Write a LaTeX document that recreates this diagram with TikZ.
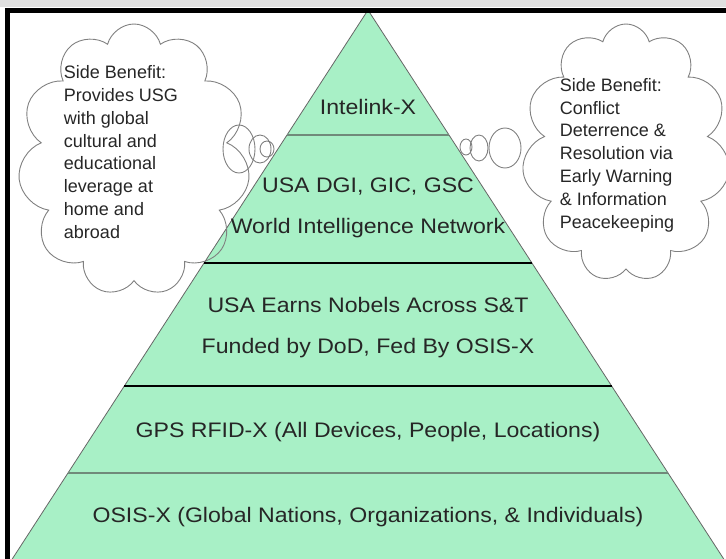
\documentclass[tikz,border=0pt]{standalone}
\usepackage{fontspec}
\setmainfont{Liberation Sans}
\newfontfamily\pyrfont[FakeStretch=1.1]{Liberation Sans}
\usetikzlibrary{shapes.symbols,calc}

\definecolor{pyrgreen}{RGB}{168,240,198}
\definecolor{sepgray}{RGB}{112,138,122}

\tikzset{
  layer/.style={font=\pyrfont\fontsize{21}{25}\selectfont,text=black!85},
  thought/.style={draw=black!50,line width=0.9pt,cloud,cloud puffs=11,cloud ignores aspect},
  thoughttext/.style={align=left,font=\fontsize{18}{22.8}\selectfont,text=black!85},
  bubble/.style={draw=black!50,line width=0.9pt},
  thinsep/.style={draw=sepgray,line width=1.2pt},
  thicksep/.style={draw=black,line width=2.5pt}
}

\begin{document}
\begin{tikzpicture}[x=1pt,y=-1pt]
    \useasboundingbox (0,0) rectangle (726,558);
    \fill[black!12] (0,0) rectangle (726,7);

    % pyramid
    \coordinate (apex) at (368,10);
    \coordinate (bl) at (10.3,562);
    \coordinate (br) at (725.7,562);
    \filldraw[fill=pyrgreen,draw=black!60,line width=0.8pt] (apex) -- (bl) -- (br) -- cycle;
    \draw[thinsep] ($(apex)!0.2264!(bl)$) -- ($(apex)!0.2264!(br)$);
    \draw[thicksep] ($(apex)!0.4583!(bl)$) -- ($(apex)!0.4583!(br)$);
    \draw[thicksep] ($(apex)!0.6812!(bl)$) -- ($(apex)!0.6812!(br)$);
    \draw[thinsep] ($(apex)!0.8388!(bl)$) -- ($(apex)!0.8388!(br)$);

    % frame
    \draw[line width=4.5pt] (7.5,560) -- (7.5,10.5) -- (726,10.5);

    % clouds
    \node[thought,minimum width=232pt,minimum height=272pt] (lcloud) at (134,160) {};
    \node[thought,minimum width=208pt,minimum height=258pt] (rcloud) at (626,153) {};
    \draw[bubble] (239,149) ellipse [x radius=16pt,y radius=24pt];
    \draw[bubble] (260,149) ellipse [x radius=11pt,y radius=14pt];
    \draw[bubble] (267,149) ellipse [x radius=7pt,y radius=8pt];
    \draw[bubble] (466,147) ellipse [x radius=6pt,y radius=8pt];
    \draw[bubble] (479,148) ellipse [x radius=9pt,y radius=13pt];
    \draw[bubble] (505,148) ellipse [x radius=16pt,y radius=20pt];

    \node[thoughttext] (ltext) at (121,152) {Side Benefit:\\Provides USG\\with global\\cultural and\\educational\\leverage at\\home and\\abroad};
    \node[thoughttext] (rtext) at (617,155) {Side Benefit:\\Conflict\\Deterrence \&\\Resolution via\\Early Warning\\\& Information\\Peacekeeping};

    % layers
    \node[layer] (intelink) at (368,107) {Intelink-X};
    \node[layer] (dgi) at (368,187) {USA DGI, GIC, GSC};
    \node[layer] (win) at (368,228) {World Intelligence Network};
    \node[layer] (nobel) at (368,305) {USA Earns Nobels Across S\&T};
    \node[layer] (funded) at (368,348) {Funded by DoD, Fed By OSIS-X};
    \node[layer] (gps) at (368,432) {GPS RFID-X (All Devices, People, Locations)};
    \node[layer] (osis) at (368,517) {OSIS-X (Global Nations, Organizations, \& Individuals)};
  \end{tikzpicture}
\end{document}
